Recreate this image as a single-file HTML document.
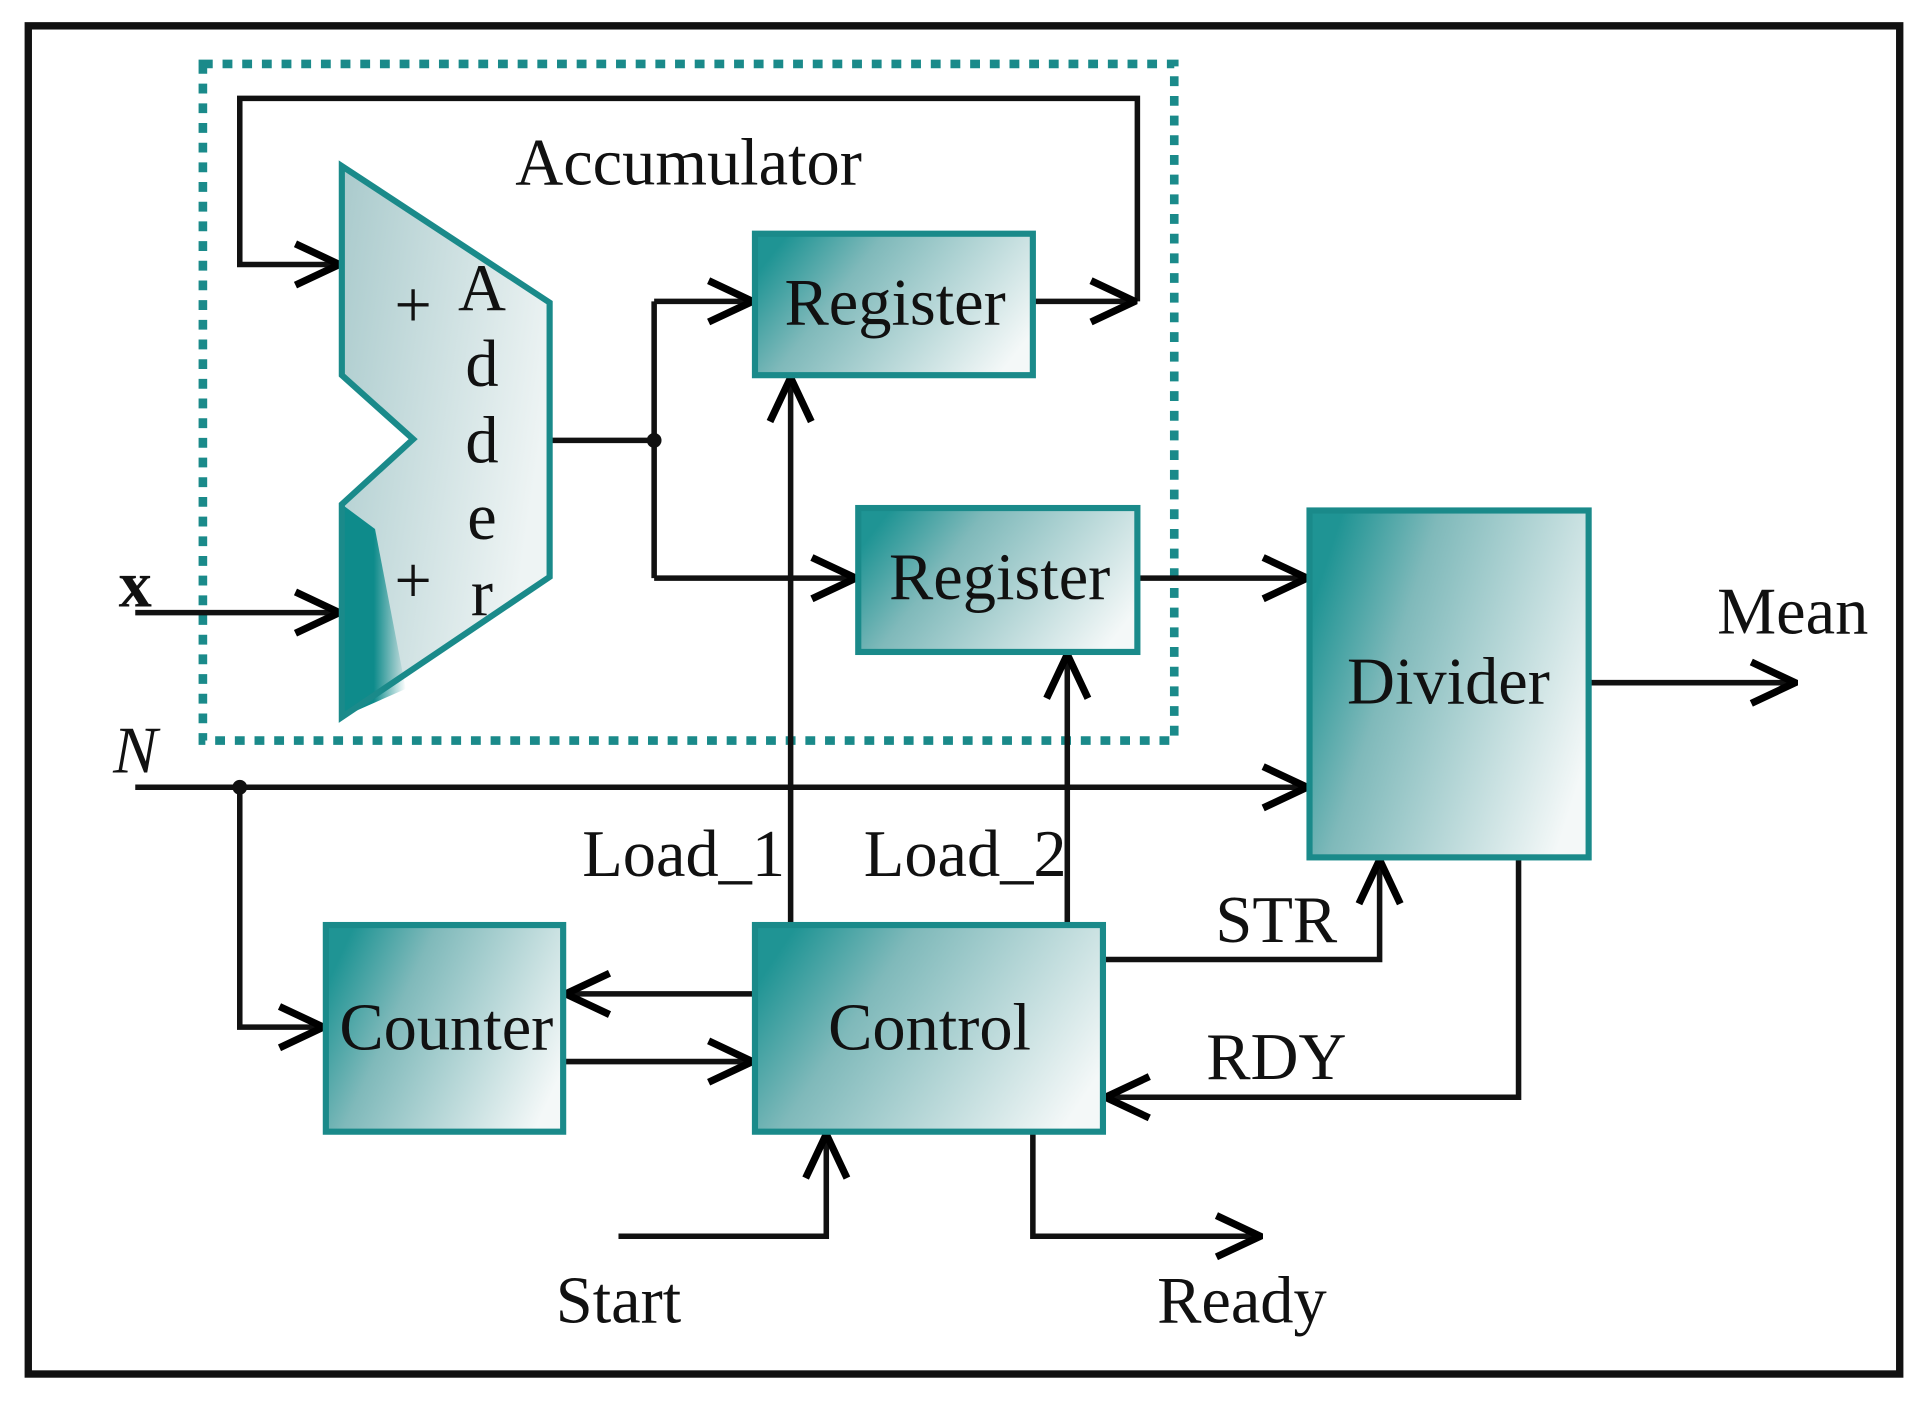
<!DOCTYPE html>
<html><head><style>html,body{margin:0;padding:0;background:#fff}svg{display:block}</style></head>
<body>
<svg width="1928" height="1406" viewBox="0 0 1568 1143" preserveAspectRatio="none" xmlns="http://www.w3.org/2000/svg" font-family="Liberation Serif, serif">
<defs>
<linearGradient id="g" x1="0" y1="0.3" x2="1" y2="0.7">
<stop offset="0" stop-color="#1f9494"/><stop offset="0.3" stop-color="#7fb9ba"/><stop offset="1" stop-color="#f4f8f8"/>
</linearGradient>
<linearGradient id="ga" x1="0" y1="0" x2="1" y2="0.4">
<stop offset="0" stop-color="#a9cacc"/><stop offset="1" stop-color="#eef4f4"/>
</linearGradient>
<linearGradient id="gt" x1="0" y1="0" x2="1" y2="0">
<stop offset="0" stop-color="#0e8b8b"/><stop offset="0.5" stop-color="#0e8b8b"/><stop offset="1" stop-color="#0e8b8b" stop-opacity="0"/>
</linearGradient>
<marker id="a" viewBox="0 0 20 20" refX="19" refY="10" markerWidth="42" markerHeight="42" markerUnits="userSpaceOnUse" orient="auto">
<polyline points="2,2 19,10 2,18" fill="none" stroke="#000" stroke-width="2.8"/>
</marker>
</defs>
<rect x="0" y="0" width="1568" height="1143" fill="#fff"/>
<rect x="23" y="21" width="1522" height="1096" fill="none" stroke="#111" stroke-width="6"/>
<rect x="165" y="52" width="790" height="550" fill="none" stroke="#1a8a8a" stroke-width="7" stroke-dasharray="8,8"/>
<g stroke="#111" stroke-width="4.5" fill="none">
<polyline points="925,245 925,80 195,80 195,215 276,215" marker-end="url(#a)"/>
<polyline points="840,245 923,245" marker-end="url(#a)"/>
<polyline points="447,358 532,358"/>
<polyline points="532,245 532,470"/>
<polyline points="532,245 612,245" marker-end="url(#a)"/>
<polyline points="532,470 696,470" marker-end="url(#a)"/>
<polyline points="925,470 1063,470" marker-end="url(#a)"/>
<polyline points="1292,555 1460,555" marker-end="url(#a)"/>
<polyline points="110,498 276,498" marker-end="url(#a)"/>
<polyline points="110,640 1063,640" marker-end="url(#a)"/>
<polyline points="195,640 195,835 263,835" marker-end="url(#a)"/>
<polyline points="614,808 460,808" marker-end="url(#a)"/>
<polyline points="458,863 612,863" marker-end="url(#a)"/>
<polyline points="643,752 643,307" marker-end="url(#a)"/>
<polyline points="868,752 868,532" marker-end="url(#a)"/>
<polyline points="897,780 1122,780 1122,699" marker-end="url(#a)"/>
<polyline points="1235,697 1235,892 899,892" marker-end="url(#a)"/>
<polyline points="503,1005 672,1005 672,922" marker-end="url(#a)"/>
<polyline points="840,920 840,1005 1025,1005" marker-end="url(#a)"/>
</g>
<circle cx="532" cy="358" r="6" fill="#111"/>
<circle cx="195" cy="640" r="6" fill="#111"/>
<polygon points="278,135 447,246 447,469 278,583 278,410 336,357 278,305" fill="url(#ga)"/>
<polygon points="278,410 305,430 330,560 278,583" fill="url(#gt)"/>
<polygon points="278,135 447,246 447,469 278,583 278,410 336,357 278,305" fill="none" stroke="#1a8a8a" stroke-width="5"/>
<g stroke="#1a8a8a" stroke-width="5" fill="url(#g)">
<rect x="614" y="190" width="226" height="115"/>
<rect x="698" y="413" width="227" height="117"/>
<rect x="1065" y="415" width="227" height="282"/>
<rect x="265" y="752" width="193" height="168"/>
<rect x="614" y="752" width="283" height="168"/>
</g>
<g font-size="54" fill="#111" text-anchor="middle">
<text x="560" y="150">Accumulator</text>
<text x="728" y="264">Register</text>
<text x="813" y="487">Register</text>
<text x="1178" y="572">Divider</text>
<text x="363" y="853">Counter</text>
<text x="756" y="853">Control</text>
<text x="1458" y="515">Mean</text>
<text x="556" y="712">Load_1</text>
<text x="785" y="712">Load_2</text>
<text x="1038" y="766">STR</text>
<text x="1038" y="877">RDY</text>
<text x="503" y="1075">Start</text>
<text x="1010" y="1075">Ready</text>
<text x="392" y="252">A</text>
<text x="392" y="314">d</text>
<text x="392" y="376">d</text>
<text x="392" y="438">e</text>
<text x="392" y="500">r</text>
<text x="336" y="266">+</text>
<text x="336" y="490">+</text>
<text x="110" y="493" font-weight="bold">x</text>
<text x="110" y="628" font-style="italic">N</text>
</g>
</svg>
</body></html>
